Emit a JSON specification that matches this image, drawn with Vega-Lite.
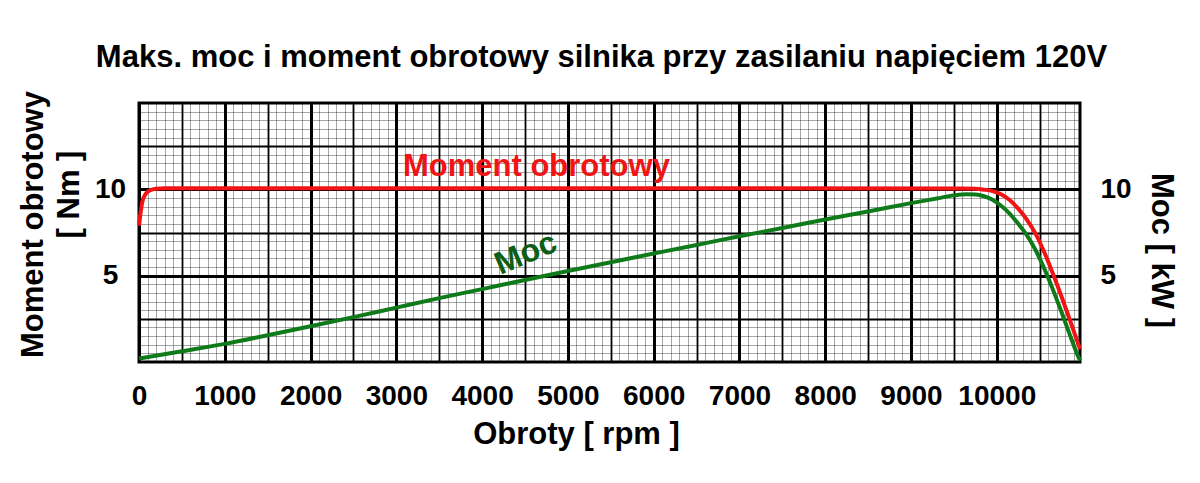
{
  "$schema": "https://vega.github.io/schema/vega-lite/v6.json",
  "width": 941,
  "height": 259,
  "autosize": {"type": "none"},
  "padding": {"left": 139, "top": 103, "right": 120, "bottom": 121},
  "background": "white",
  "title": {
    "text": "Maks. moc i moment obrotowy silnika przy zasilaniu napięciem 120V",
    "font": "Liberation Sans",
    "fontSize": 31,
    "fontWeight": "bold",
    "color": "black",
    "anchor": "middle",
    "frame": "group",
    "dx": -8,
    "dy": 42,
    "baseline": "alphabetic",
    "offset": 35
  },
  "config": {
    "view": {"stroke": "black", "strokeWidth": 3},
    "axis": {
      "labelFont": "Liberation Sans",
      "labelFontWeight": "bold",
      "labelFontSize": 28,
      "labelColor": "black",
      "titleFont": "Liberation Sans",
      "titleFontWeight": "bold",
      "titleFontSize": 31,
      "titleColor": "black",
      "ticks": false,
      "tickSize": 0,
      "domain": false
    }
  },
  "datasets": {
    "torque": [
      {"rpm": 0, "nm": 7.9}, {"rpm": 15, "nm": 8.5}, {"rpm": 40, "nm": 9.3},
      {"rpm": 80, "nm": 9.75}, {"rpm": 130, "nm": 9.95}, {"rpm": 200, "nm": 10.03},
      {"rpm": 300, "nm": 10.06}, {"rpm": 1000, "nm": 10.06}, {"rpm": 5000, "nm": 10.06},
      {"rpm": 9600, "nm": 10.05}, {"rpm": 9750, "nm": 10.03}, {"rpm": 9850, "nm": 9.98},
      {"rpm": 9950, "nm": 9.9}, {"rpm": 10050, "nm": 9.72}, {"rpm": 10150, "nm": 9.38},
      {"rpm": 10250, "nm": 8.88}, {"rpm": 10350, "nm": 8.25}, {"rpm": 10450, "nm": 7.45},
      {"rpm": 10550, "nm": 6.4}, {"rpm": 10650, "nm": 5.17}, {"rpm": 10750, "nm": 3.85},
      {"rpm": 10850, "nm": 2.46}, {"rpm": 10950, "nm": 1.03}, {"rpm": 10970, "nm": 0.74}
    ],
    "power": [
      {"rpm": 0, "kw": 0.2}, {"rpm": 500, "kw": 0.62}, {"rpm": 1000, "kw": 1.05},
      {"rpm": 1500, "kw": 1.55}, {"rpm": 2000, "kw": 2.07}, {"rpm": 2500, "kw": 2.6},
      {"rpm": 3000, "kw": 3.15}, {"rpm": 3500, "kw": 3.7}, {"rpm": 4000, "kw": 4.22},
      {"rpm": 4500, "kw": 4.75}, {"rpm": 5000, "kw": 5.27}, {"rpm": 5500, "kw": 5.78},
      {"rpm": 6000, "kw": 6.28}, {"rpm": 6500, "kw": 6.78}, {"rpm": 7000, "kw": 7.28},
      {"rpm": 7500, "kw": 7.76}, {"rpm": 8000, "kw": 8.25}, {"rpm": 8500, "kw": 8.72},
      {"rpm": 9000, "kw": 9.2}, {"rpm": 9300, "kw": 9.47}, {"rpm": 9500, "kw": 9.65},
      {"rpm": 9650, "kw": 9.72}, {"rpm": 9750, "kw": 9.7}, {"rpm": 9850, "kw": 9.6},
      {"rpm": 9950, "kw": 9.4}, {"rpm": 10050, "kw": 9.05}, {"rpm": 10150, "kw": 8.6},
      {"rpm": 10250, "kw": 8.0}, {"rpm": 10350, "kw": 7.35}, {"rpm": 10450, "kw": 6.5},
      {"rpm": 10550, "kw": 5.45}, {"rpm": 10650, "kw": 4.25}, {"rpm": 10750, "kw": 2.95},
      {"rpm": 10850, "kw": 1.6}, {"rpm": 10950, "kw": 0.3}, {"rpm": 10970, "kw": 0.08}
    ],
    "labels": [
      {"rpm": 4633, "value": 10.8, "label": "Moment obrotowy"},
      {"rpm": 4510, "value": 6.3, "label": "Moc"}
    ]
  },
  "resolve": {"axis": {"x": "independent", "y": "independent"}},
  "layer": [
    {
      "data": {"name": "power"},
      "mark": {"type": "line", "color": "#0f7a1a", "strokeWidth": 4, "interpolate": "monotone"},
      "encoding": {
        "x": {
          "field": "rpm", "type": "quantitative",
          "scale": {"domain": [0, 10970], "nice": false, "zero": false},
          "axis": {"orient": "bottom", "grid": true, "gridColor": "black", "gridOpacity": 0.35, "gridWidth": 1,
                   "tickCount": 110, "labels": false, "title": null}
        },
        "y": {
          "field": "kw", "type": "quantitative",
          "scale": {"domain": [0, 15], "nice": false},
          "axis": {"orient": "right", "grid": true, "gridColor": "black", "gridOpacity": 0.35, "gridWidth": 1,
                   "tickCount": 30, "labels": false, "title": null}
        }
      }
    },
    {
      "data": {"name": "torque"},
      "mark": {"type": "line", "color": "#f01414", "strokeWidth": 4, "interpolate": "monotone"},
      "encoding": {
        "x": {
          "field": "rpm", "type": "quantitative",
          "scale": {"domain": [0, 10970], "nice": false, "zero": false},
          "axis": {"orient": "top", "grid": true, "gridColor": "black", "gridWidth": 1.8,
                   "values": [500, 1500, 2500, 3500, 4500, 5500, 6500, 7500, 8500, 9500, 10500],
                   "labels": false, "title": null}
        },
        "y": {
          "field": "nm", "type": "quantitative",
          "scale": {"domain": [0, 15], "nice": false},
          "axis": {"orient": "left", "grid": true, "gridColor": "black", "gridWidth": 1.8,
                   "values": [2.5, 7.5, 12.5], "labels": false,
                   "title": "[ Nm ]", "titleAngle": 270, "titleAlign": "center", "titleBaseline": "alphabetic",
                   "titleX": -61, "titleY": 91}
        }
      }
    },
    {
      "data": {"name": "labels"},
      "transform": [{"filter": "datum.label == 'Moment obrotowy'"}],
      "mark": {"type": "text", "color": "#f01414", "font": "Liberation Sans", "fontWeight": "bold",
               "fontSize": 31, "align": "center", "baseline": "alphabetic"},
      "encoding": {
        "text": {"field": "label"},
        "x": {
          "field": "rpm", "type": "quantitative",
          "scale": {"domain": [0, 10970], "nice": false, "zero": false},
          "axis": {"orient": "bottom", "grid": true, "gridColor": "black", "gridWidth": 3,
                   "values": [0, 1000, 2000, 3000, 4000, 5000, 6000, 7000, 8000, 9000, 10000],
                   "format": "d", "labelFlush": false, "labelPadding": 20, "labelBaseline": "top",
                   "title": "Obroty [ rpm ]", "titleAlign": "center", "titleBaseline": "alphabetic",
                   "titleX": 437, "titleY": 81}
        },
        "y": {
          "field": "value", "type": "quantitative",
          "scale": {"domain": [0, 15], "nice": false},
          "axis": {"orient": "left", "grid": true, "gridColor": "black", "gridWidth": 3,
                   "values": [5, 10], "labelAlign": "center", "labelBaseline": "middle", "labelPadding": 29,
                   "title": "Moment obrotowy", "titleAngle": 270, "titleAlign": "center", "titleBaseline": "alphabetic",
                   "titleX": -97, "titleY": 121}
        }
      }
    },
    {
      "data": {"name": "labels"},
      "transform": [{"filter": "datum.label == 'Moc'"}],
      "mark": {"type": "text", "color": "#0b5e14", "font": "Liberation Sans", "fontWeight": "bold",
               "fontSize": 32, "align": "center", "baseline": "middle", "angle": 337},
      "encoding": {
        "text": {"field": "label"},
        "x": {
          "field": "rpm", "type": "quantitative",
          "scale": {"domain": [0, 10970], "nice": false, "zero": false},
          "axis": null
        },
        "y": {
          "field": "value", "type": "quantitative",
          "scale": {"domain": [0, 15], "nice": false},
          "axis": {"orient": "right", "grid": false, "values": [5, 10],
                   "labelAlign": "left", "labelBaseline": "middle", "labelPadding": 20,
                   "title": "Moc [ kW ]", "titleAngle": 90, "titleAlign": "center", "titleBaseline": "alphabetic",
                   "titleX": 71, "titleY": 147}
        }
      }
    }
  ]
}
